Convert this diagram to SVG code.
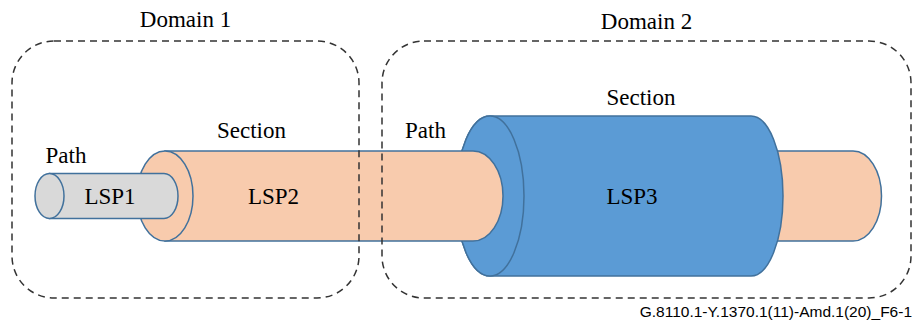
<svg xmlns="http://www.w3.org/2000/svg" width="915" height="322" viewBox="0 0 915 322">
<style>
.lbl{font-family:'Liberation Serif','Times New Roman','DejaVu Serif',serif;font-size:23px;fill:#000;text-anchor:middle}
.foot{font-family:'Liberation Sans',Arial,sans-serif;font-size:15.5px;fill:#000;text-anchor:end}
.dom{fill:none;stroke:#333;stroke-width:1.5;stroke-dasharray:7 5}
.edge{stroke:#41719c;stroke-width:1.5}
.org{fill:#f8cbad}
.blu{fill:#5b9bd5}
.gry{fill:#d9d9d9}
</style>
<rect width="915" height="322" fill="#fff"/>
<g id="lsp2-right">
<path class="org edge" d="M740 151 H853 A28.5 45 0 0 1 853 241 H740 Z"/>
</g>
<g id="lsp3">
<path class="blu edge" d="M490 116 H751 A32 80 0 0 1 751 276 H490 A34 80 0 0 1 490 116 Z"/>
<ellipse class="blu edge" cx="490" cy="196" rx="34" ry="80"/>
<text class="lbl" x="632" y="204" font-family="Liberation Serif, serif">LSP3</text>
</g>
<g id="lsp2">
<path class="org edge" d="M165 151 H473 A30 45 0 0 1 473 241 H165 Z"/>
<ellipse class="org edge" cx="165" cy="196" rx="28" ry="45"/>
<text class="lbl" x="273.5" y="204">LSP2</text>
</g>
<g id="lsp1">
<path class="gry edge" d="M49.5 173.5 H164 A14 22.5 0 0 1 164 218.5 H49.5 Z"/>
<ellipse class="gry edge" cx="49.5" cy="196" rx="14.5" ry="22.5"/>
<text class="lbl" x="110" y="204">LSP1</text>
</g>
<g id="domain1">
<rect class="dom" x="12" y="41" width="347" height="257" rx="42" ry="42"/>
<text class="lbl" x="185.5" y="27">Domain 1</text>
</g>
<g id="domain2">
<rect class="dom" x="382" y="41" width="529" height="257" rx="42" ry="42"/>
<text class="lbl" x="646.5" y="29">Domain 2</text>
</g>
<g id="labels">
<text class="lbl" x="66" y="163">Path</text>
<text class="lbl" x="251.5" y="138">Section</text>
<text class="lbl" x="425.5" y="138">Path</text>
<text class="lbl" x="641" y="105">Section</text>
<text class="foot" x="912" y="317">G.8110.1-Y.1370.1(11)-Amd.1(20)_F6-1</text>
</g>
<g id="connectors"></g>
</svg>
